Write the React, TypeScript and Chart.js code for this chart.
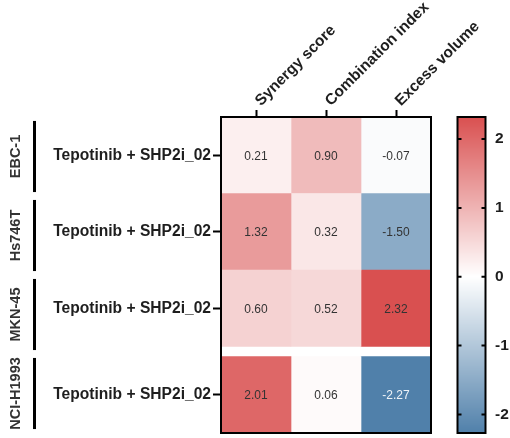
import React, { useEffect, useRef } from 'react';
import { Chart, registerables } from 'chart.js';

Chart.register(...registerables);

// ---- data ----
const COLUMNS = ['Synergy score', 'Combination index', 'Excess volume'];
const GROUPS = ['EBC-1', 'Hs746T', 'MKN-45', 'NCI-H1993'];
const ROW_LABELS = [
  'Tepotinib + SHP2i_02',
  'Tepotinib + SHP2i_02',
  'Tepotinib + SHP2i_02',
  'Tepotinib + SHP2i_02',
];
const SYNERGY_SCORE = [0.21, 1.32, 0.6, 2.01];
const COMBINATION_INDEX = [0.9, 0.32, 0.52, 0.06];
const EXCESS_VOLUME = [-0.07, -1.5, 2.32, -2.27];
const COLORBAR_TICKS = [-2, -1, 0, 1, 2];

// ---- style / layout ----
const FONT = "'Liberation Sans', Arial, Helvetica, sans-serif";
const TEXT = '#1e1e1e';
const RED = [217, 80, 80];
const BLUE = [80, 128, 170];
const GAP_AFTER_ROW = 2; // white gap after this row index
const GAP = 0.13;

const VALUES = [SYNERGY_SCORE, COMBINATION_INDEX, EXCESS_VOLUME];
const ALL = VALUES.flat();
const V_MIN = Math.min(...ALL);
const V_MAX = Math.max(...ALL);
const Y_MAX = ROW_LABELS.length + GAP;

const rowCenter = (i: number) => i + 0.5 + (i > GAP_AFTER_ROW ? GAP : 0);

function colorFor(v: number) {
  const t = Math.min(1, Math.max(0, v >= 0 ? v / V_MAX : v / V_MIN));
  const c = v >= 0 ? RED : BLUE;
  const m = (k: number) => Math.round(255 + (c[k] - 255) * t);
  return `rgb(${m(0)},${m(1)},${m(2)})`;
}

const zeroPad = (s: any) => {
  s.paddingTop = 0;
  s.paddingBottom = 0;
  s.paddingLeft = 0;
  s.paddingRight = 0;
};

const cellTextPlugin = {
  id: 'cellText',
  afterDatasetsDraw(chart: any) {
    const ctx = chart.ctx;
    ctx.save();
    ctx.font = `12px ${FONT}`;
    ctx.textAlign = 'center';
    ctx.textBaseline = 'middle';
    chart.data.datasets.forEach((ds: any, j: number) => {
      const meta = chart.getDatasetMeta(j);
      meta.data.forEach((el: any, i: number) => {
        const v = VALUES[j][i];
        ctx.fillStyle = v <= -2 ? '#eef3f8' : '#333333';
        ctx.fillText(v.toFixed(2), (el.x + el.base) / 2, el.y + 1);
      });
    });
    const a = chart.chartArea;
    ctx.lineWidth = 2;
    ctx.strokeStyle = '#000';
    ctx.strokeRect(a.left, a.top, a.right - a.left, a.bottom - a.top);
    ctx.restore();
  },
};

const decorPlugin = {
  id: 'decor',
  afterDraw(chart: any) {
    const ctx = chart.ctx;
    const a = chart.chartArea;
    ctx.save();
    // group labels + bars
    const slot = (a.bottom - a.top) / GROUPS.length;
    GROUPS.forEach((g, k) => {
      const cy = a.top + slot * (k + 0.5);
      ctx.fillStyle = '#000';
      ctx.fillRect(33, cy - slot * 0.45, 3, slot * 0.9);
      ctx.save();
      ctx.translate(15.5, cy);
      ctx.rotate(-Math.PI / 2);
      ctx.font = `bold 14.5px ${FONT}`;
      ctx.fillStyle = '#333';
      ctx.textAlign = 'center';
      ctx.textBaseline = 'middle';
      ctx.fillText(g, 0, 0);
      ctx.restore();
    });
    // colour bar
    const cb = chart.scales.cb;
    const bx = cb.left + 26.5;
    const bw = 28;
    for (let y = Math.floor(cb.top); y < cb.bottom; y++) {
      ctx.fillStyle = colorFor(cb.getValueForPixel(y + 0.5));
      ctx.fillRect(bx, y, bw, 1);
    }
    ctx.lineWidth = 2;
    ctx.strokeStyle = '#000';
    ctx.strokeRect(bx, cb.top, bw, cb.bottom - cb.top);
    cb.ticks.forEach((t: any) => {
      const py = cb.getPixelForValue(t.value);
      ctx.beginPath();
      ctx.moveTo(bx, py);
      ctx.lineTo(bx + 4, py);
      ctx.moveTo(bx + bw - 4, py);
      ctx.lineTo(bx + bw, py);
      ctx.stroke();
    });
    ctx.restore();
  },
};

export default function App() {
  const ref = useRef<HTMLCanvasElement>(null);
  useEffect(() => {
    if (!ref.current) return;
    const chart = new Chart(ref.current, {
      type: 'bar',
      data: {
        labels: ROW_LABELS,
        datasets: COLUMNS.map((name, j) => ({
          label: name,
          data: VALUES[j].map((v, i) => ({ x: [j, j + 1], y: rowCenter(i) })),
          backgroundColor: VALUES[j].map(colorFor),
          borderWidth: 0,
          barPercentage: 1,
          categoryPercentage: 1,
          grouped: false,
        })) as any,
      },
      options: {
        indexAxis: 'y',
        responsive: false,
        animation: false,
        devicePixelRatio: 1,
        layout: { padding: { left: 0, top: 0, right: 0, bottom: 5 } },
        plugins: { legend: { display: false }, tooltip: { enabled: false } },
        scales: {
          x: {
            type: 'linear',
            position: 'top',
            min: 0,
            max: COLUMNS.length,
            offset: false,
            afterBuildTicks: (s: any) => {
              s.ticks = COLUMNS.map((_, j) => ({ value: j + 0.5 }));
            },
            afterFit: (s: any) => {
              s.height = 117;
              zeroPad(s);
            },
            ticks: {
              minRotation: 45,
              maxRotation: 45,
              padding: 0,
              labelOffset: 15,
              autoSkip: false,
              color: TEXT,
              font: { family: FONT, size: 15.5, weight: 'bold' },
              callback: (_v: any, i: number) => COLUMNS[i],
            },
            grid: {
              offset: false,
              drawOnChartArea: false,
              drawTicks: true,
              tickLength: 7,
              tickWidth: 2,
              tickColor: '#000',
            },
            border: { display: true, color: '#000', width: 2 },
          },
          y: {
            type: 'linear',
            position: 'left',
            reverse: true,
            min: 0,
            max: Y_MAX,
            offset: false,
            afterBuildTicks: (s: any) => {
              s.ticks = ROW_LABELS.map((_, i) => ({ value: rowCenter(i) }));
            },
            afterFit: (s: any) => {
              s.width = 221;
              zeroPad(s);
            },
            ticks: {
              padding: 2,
              autoSkip: false,
              color: TEXT,
              font: { family: FONT, size: 15.6, weight: 'bold' },
              callback: (_v: any, i: number) => ROW_LABELS[i],
            },
            grid: {
              offset: false,
              drawOnChartArea: false,
              drawTicks: true,
              tickLength: 8,
              tickWidth: 2,
              tickColor: '#000',
            },
            border: { display: true, color: '#000', width: 2 },
          },
          cb: {
            type: 'linear',
            axis: 'y',
            position: 'right',
            min: V_MIN,
            max: V_MAX,
            offset: false,
            afterBuildTicks: (s: any) => {
              s.ticks = COLORBAR_TICKS.map((v) => ({ value: v }));
            },
            afterFit: (s: any) => {
              s.width = 79;
              zeroPad(s);
            },
            ticks: {
              padding: 64,
              color: TEXT,
              font: { family: FONT, size: 15.5, weight: 'bold' },
              callback: (v: any) => String(v),
            },
            grid: { display: false, drawTicks: false },
            border: { display: false },
          },
        } as any,
      },
      plugins: [cellTextPlugin, decorPlugin],
    });
    return () => chart.destroy();
  }, []);
  return (
    <div style={{ position: 'absolute', left: 0, top: 0, width: 510, height: 438, background: '#fff' }}>
      <canvas ref={ref} width={510} height={438} />
    </div>
  );
}
